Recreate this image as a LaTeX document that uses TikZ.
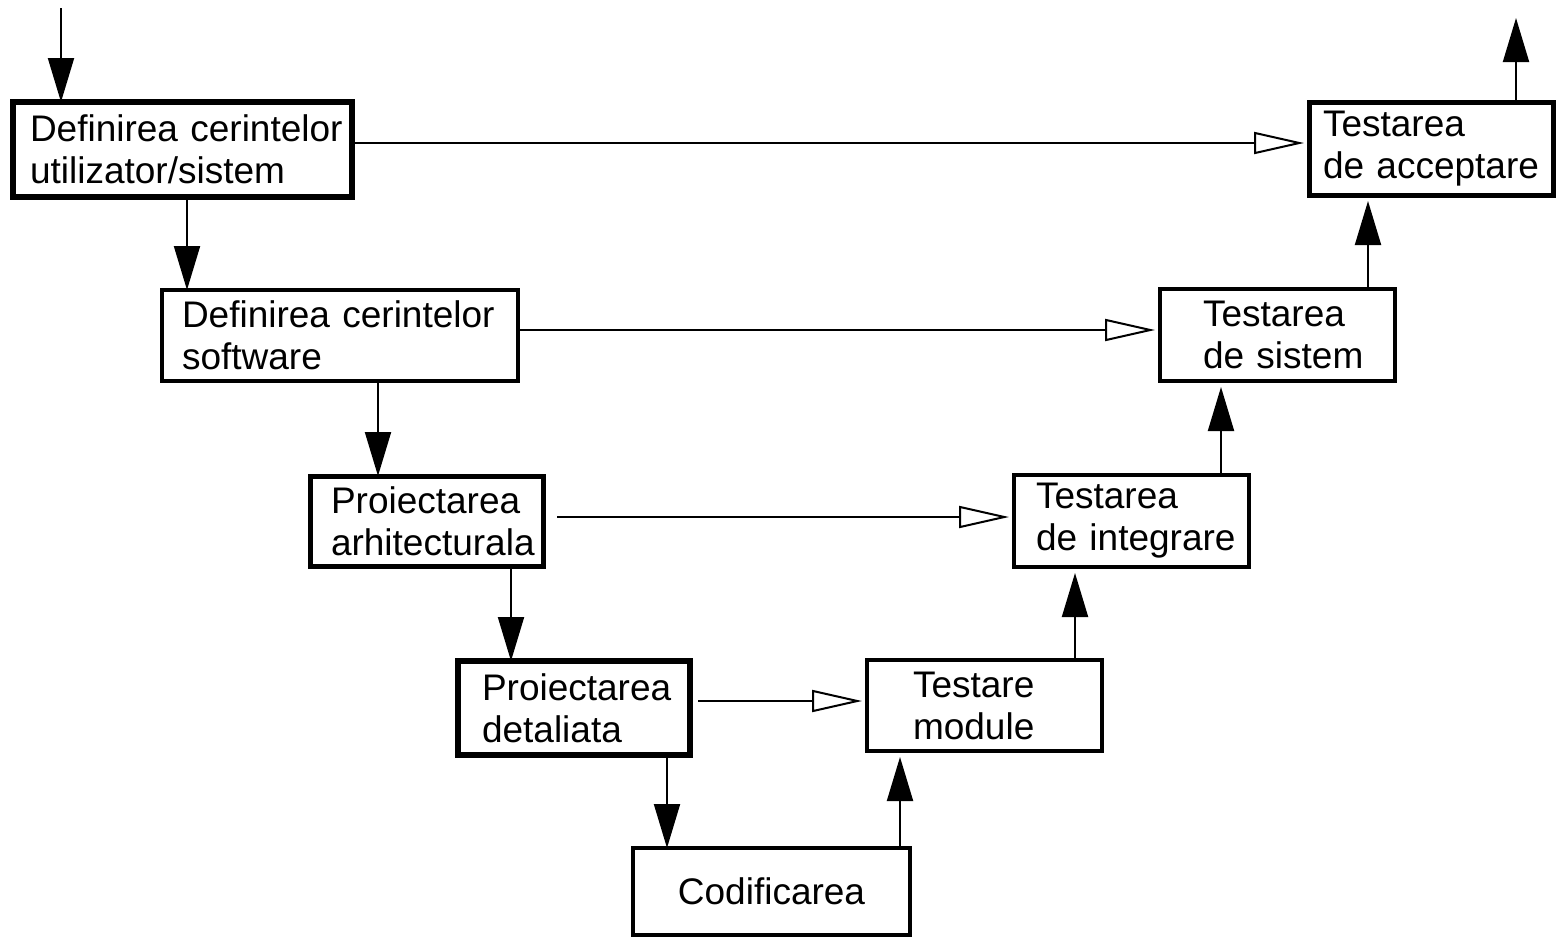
\documentclass[tikz,border=0pt]{standalone}
\usepackage{fontspec}
\setmainfont{Liberation Sans}
\usetikzlibrary{arrows.meta}
\begin{document}
\begin{tikzpicture}[x=1pt,y=-1pt,
  stage/.style={draw, rectangle, outer sep=0pt, inner ysep=0pt, align=left,
    anchor=north west, font=\fontsize{37}{42}\selectfont},
  flow/.style={line width=2pt, -{Triangle[length=44pt,width=26pt]}},
  upflow/.style={flow, shorten >=6pt},
  link/.style={line width=2pt, -{Triangle[open,length=50pt,width=22pt]}, shorten >=5pt}]
\useasboundingbox (0,0) rectangle (1558,938);

% left branch: definition and design
\node[stage, line width=6pt, minimum width=339pt, minimum height=95pt, inner xsep=17pt, text width=305pt]
  (b1) at (13,102) {\mbox{Definirea cerintelor}\\\mbox{utilizator/sistem}};
\node[stage, line width=4pt, minimum width=356pt, minimum height=91pt, inner xsep=20pt, text width=316pt]
  (b2) at (162,290) {\mbox{Definirea cerintelor}\\\mbox{software}};
\node[stage, line width=5pt, minimum width=233pt, minimum height=90pt, inner xsep=21pt, text width=191pt]
  (b3) at (310,476) {\mbox{Proiectarea}\\\mbox{arhitecturala}};
\node[stage, line width=6pt, minimum width=232pt, minimum height=94pt, inner xsep=24pt, text width=184pt]
  (b4) at (458,661) {\mbox{Proiectarea}\\\mbox{detaliata}};
\node[stage, line width=4pt, minimum width=277pt, minimum height=87pt, inner xsep=20pt, text width=237pt, align=center]
  (b5) at (633,848) {Codificarea};

% right branch: testing
\node[stage, line width=4pt, minimum width=235pt, minimum height=91pt, inner xsep=46pt, text width=143pt]
  (b6) at (867,660) {\mbox{Testare}\\\mbox{module}};
\node[stage, line width=4pt, minimum width=235pt, minimum height=92pt, inner xsep=22pt, text width=191pt]
  (b7) at (1014,475) {\mbox{Testarea}\\\mbox{de integrare}};
\node[stage, line width=4pt, minimum width=235pt, minimum height=92pt, inner xsep=43pt, text width=149pt]
  (b8) at (1160,289) {\mbox{Testarea}\\\mbox{de sistem}};
\node[stage, line width=5pt, minimum width=244pt, minimum height=93pt, inner xsep=14pt, text width=216pt]
  (b9) at (1309,102) {\mbox{Testarea}\\\mbox{de acceptare}};

\coordinate (in) at (61,8);
\coordinate (out) at (1516,18);

% descending flow
\draw[flow] (in) -- ([xshift=48pt]b1.north west);
\draw[flow] ([xshift=174pt]b1.south west) -- ([xshift=25pt]b2.north west);
\draw[flow] ([xshift=216pt]b2.south west) -- ([xshift=68pt]b3.north west);
\draw[flow] ([xshift=201pt]b3.south west) -- ([xshift=53pt]b4.north west);
\draw[flow] ([xshift=209pt]b4.south west) -- ([xshift=34pt]b5.north west);

% ascending flow
\draw[upflow] ([xshift=267pt]b5.north west) -- ([xshift=33pt]b6.south west);
\draw[upflow] ([xshift=208pt]b6.north west) -- ([xshift=61pt]b7.south west);
\draw[upflow] ([xshift=207pt]b7.north west) -- ([xshift=61pt]b8.south west);
\draw[upflow] ([xshift=208pt]b8.north west) -- ([xshift=59pt]b9.south west);
\draw[flow] ([xshift=207pt]b9.north west) -- (out);

% verification links between levels
\draw[link] ([yshift=6.5pt]b1.east) -- ([yshift=6.5pt]b1.east -| b9.west);
\draw[link] ([yshift=5.5pt]b2.east) -- ([yshift=5.5pt]b2.east -| b8.west);
\draw[link] ([xshift=14pt,yshift=4pt]b3.east) -- ([yshift=4pt]b3.east -| b7.west);
\draw[link] ([xshift=8pt,yshift=7pt]b4.east) -- ([yshift=7pt]b4.east -| b6.west);
\end{tikzpicture}
\end{document}
